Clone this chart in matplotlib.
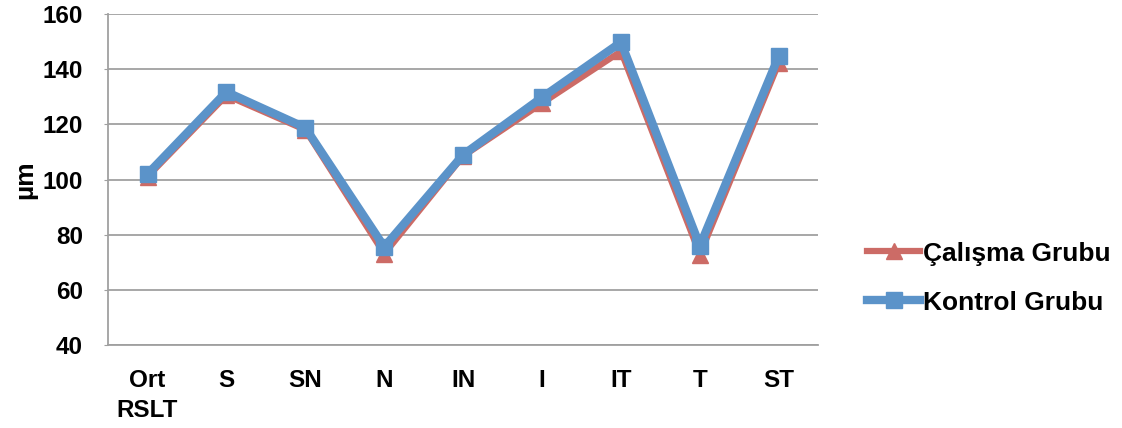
import matplotlib
matplotlib.use("Agg")
import matplotlib.pyplot as plt
from matplotlib.lines import Line2D

categories = ["Ort\nRSLT", "S", "SN", "N", "IN", "I", "IT", "T", "ST"]
calisma = [101, 130.5, 118, 73, 108.5, 127.7, 146.5, 72.8, 142.3]
kontrol = [102, 131.8, 118.8, 75.6, 109, 129.8, 149.8, 76, 144.8]
yticks = [40, 60, 80, 100, 120, 140, 160]

plt.rcParams['font.family'] = ['Liberation Sans', 'DejaVu Sans']

fig = plt.figure(figsize=(11.22, 4.28), dpi=100)
ax = fig.add_axes([0.0963, 0.194, 0.633, 0.773])

x = list(range(len(categories)))
red_l = '#CC6B66'
blue = '#5B93C9'
ax.plot(x, calisma, color=red_l, lw=4.5, marker='^', ms=11, mec=red_l, mfc=red_l,
        label='Çalışma Grubu', zorder=3, solid_joinstyle='round')
ax.plot(x, kontrol, color=blue, lw=6, marker='s', ms=11, mec=blue, mfc=blue,
        label='Kontrol Grubu', zorder=4, solid_joinstyle='round')

ax.set_xlim(-0.5, len(categories) - 0.5)
ax.set_ylim(40, 160)
ax.set_yticks(yticks)
ax.set_xticks(x)
ax.set_xticklabels(categories, fontsize=17.5, fontweight='bold', linespacing=1.4)
ax.set_yticklabels([str(v) for v in yticks], fontsize=17.5, fontweight='bold')
ax.yaxis.grid(True, color='#A0A0A0', lw=1.3)
ax.set_axisbelow(True)
for s in ['top', 'right']:
    ax.spines[s].set_visible(False)
ax.spines['left'].set_color('#A0A0A0')
ax.spines['bottom'].set_color('#A0A0A0')
ax.spines['left'].set_linewidth(1.3)
ax.spines['bottom'].set_linewidth(1.3)
ax.tick_params(axis='y', length=3, color='#A0A0A0', pad=15)
ax.tick_params(axis='x', length=0, pad=17)
ax.set_ylabel('µm', fontsize=19, fontweight='bold', labelpad=4)

handles = [Line2D([0], [0], color=red_l, lw=4.5, marker='^', ms=11, mec=red_l, mfc=red_l),
           Line2D([0], [0], color=blue, lw=6, marker='s', ms=11, mec=blue, mfc=blue)]
fig.legend(handles, ['Çalışma Grubu', 'Kontrol Grubu'], loc='center left',
           bbox_to_anchor=(0.773, 0.35), frameon=False,
           prop={'family': 'Liberation Sans', 'weight': 'bold', 'size': 19},
           handlelength=2.0, handletextpad=0.1, labelspacing=0.95,
           borderaxespad=0, borderpad=0)

fig.savefig('out.png', dpi=100)
